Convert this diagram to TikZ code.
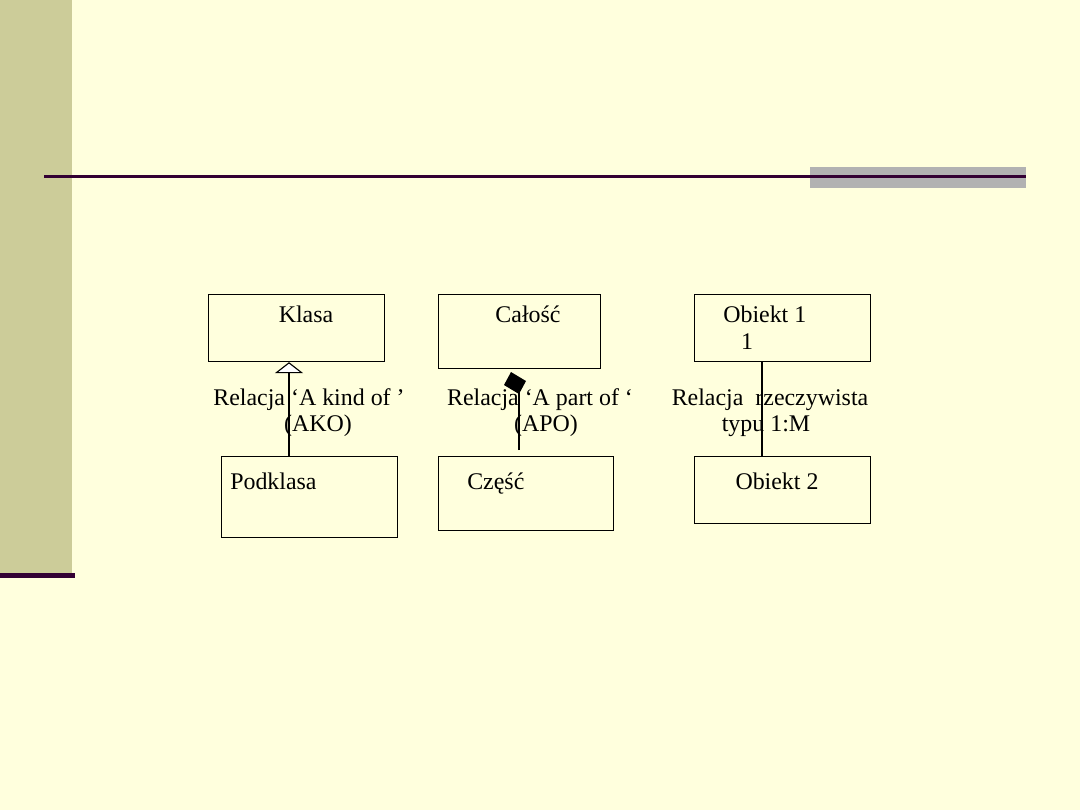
\documentclass[tikz,border=0pt]{standalone}
\usepackage{fontspec}
\setmainfont{Liberation Serif}
\usetikzlibrary{arrows.meta}
\definecolor{slidebg}{HTML}{FFFFDD}
\definecolor{olivebar}{HTML}{CCCC99}
\definecolor{plumline}{HTML}{330033}
\definecolor{greybar}{HTML}{B2B2B2}
\begin{document}
\begin{tikzpicture}[
  x=0.025cm, y=-0.025cm,
  font=\fontsize{17}{20}\selectfont,
  box/.style      = {draw, thick, rectangle, anchor=north west, inner sep=0pt},
  txt/.style      = {anchor=base, inner sep=0pt},
  txtw/.style     = {anchor=base west, inner sep=0pt},
  link/.style     = {draw, thick},
  ako/.style      = {link, -{Triangle[open, width=28*0.025cm, length=11*0.025cm, fill=white]}},
]

% --- slide background ---------------------------------------------------
\fill[slidebg] (0,0) rectangle (1080,810);
\useasboundingbox (0,0) rectangle (1080,810);
\fill[olivebar] (0,0) rectangle (72,573);
\fill[plumline] (0,573) rectangle (75,578);
\fill[greybar] (810,167) rectangle (1026,188);
\fill[plumline] (44,174.5) rectangle (1026,177.5);

% --- boxes, top row -----------------------------------------------------
\node[box, minimum width=176*0.025cm, minimum height=67*0.025cm] (klasa)  at (208,294) {};
\node[box, minimum width=162*0.025cm, minimum height=74*0.025cm] (calosc) at (438,294) {};
\node[box, minimum width=176*0.025cm, minimum height=67*0.025cm] (obiekt1) at (694,294) {};

% --- boxes, bottom row --------------------------------------------------
\node[box, minimum width=176*0.025cm, minimum height=81*0.025cm] (podklasa) at (221,456) {};
\node[box, minimum width=175*0.025cm, minimum height=74*0.025cm] (czesc)    at (438,456) {};
\node[box, minimum width=176*0.025cm, minimum height=67*0.025cm] (obiekt2)  at (694,456) {};

% --- connectors ---------------------------------------------------------
\coordinate (akox) at (289,0);
\coordinate (apox) at (519,0);
\coordinate (apoend) at (519,390);
\coordinate (relx) at (762,0);

\draw[ako] (podklasa.north -| akox) -- (klasa.south -| akox);
\draw[link] (czesc.north -| apox) ++(0,-6) -- (apoend);
\fill (511,372) -- (526,381) -- (519,394) -- (504,385) -- cycle;
\draw[link] (obiekt2.north -| relx) -- (obiekt1.south -| relx);

% --- texts in boxes -----------------------------------------------------
\node[txt]  (tklasa)   at (306,322) {Klasa};
\node[txt]  (tcalosc)  at (528,322) {Całość};
\node[txtw] (tobiekt1) at (723,322) {Obiekt 1};
\node[txt]  (tjeden)   at (747,349) {1};
\node[txtw] (tpodkl)   at (230,489) {Podklasa};
\node[txtw] (tczesc)   at (467,489) {Część};
\node[txt]  (tobiekt2) at (777,489) {Obiekt 2};

% --- relation labels ----------------------------------------------------
\node[txt] (lako1) at (309,405) {Relacja ‘A kind of ’};
\node[txt] (lako2) at (318,431) {(AKO)};
\node[txt] (lapo1) at (540,405) {Relacja ‘A part of ‘};
\node[txt] (lapo2) at (546,431) {(APO)};
\node[txt] (lrel1) at (770,405) {Relacja\ \ rzeczywista};
\node[txt] (lrel2) at (766,431) {typu 1:M};

\end{tikzpicture}
\end{document}
